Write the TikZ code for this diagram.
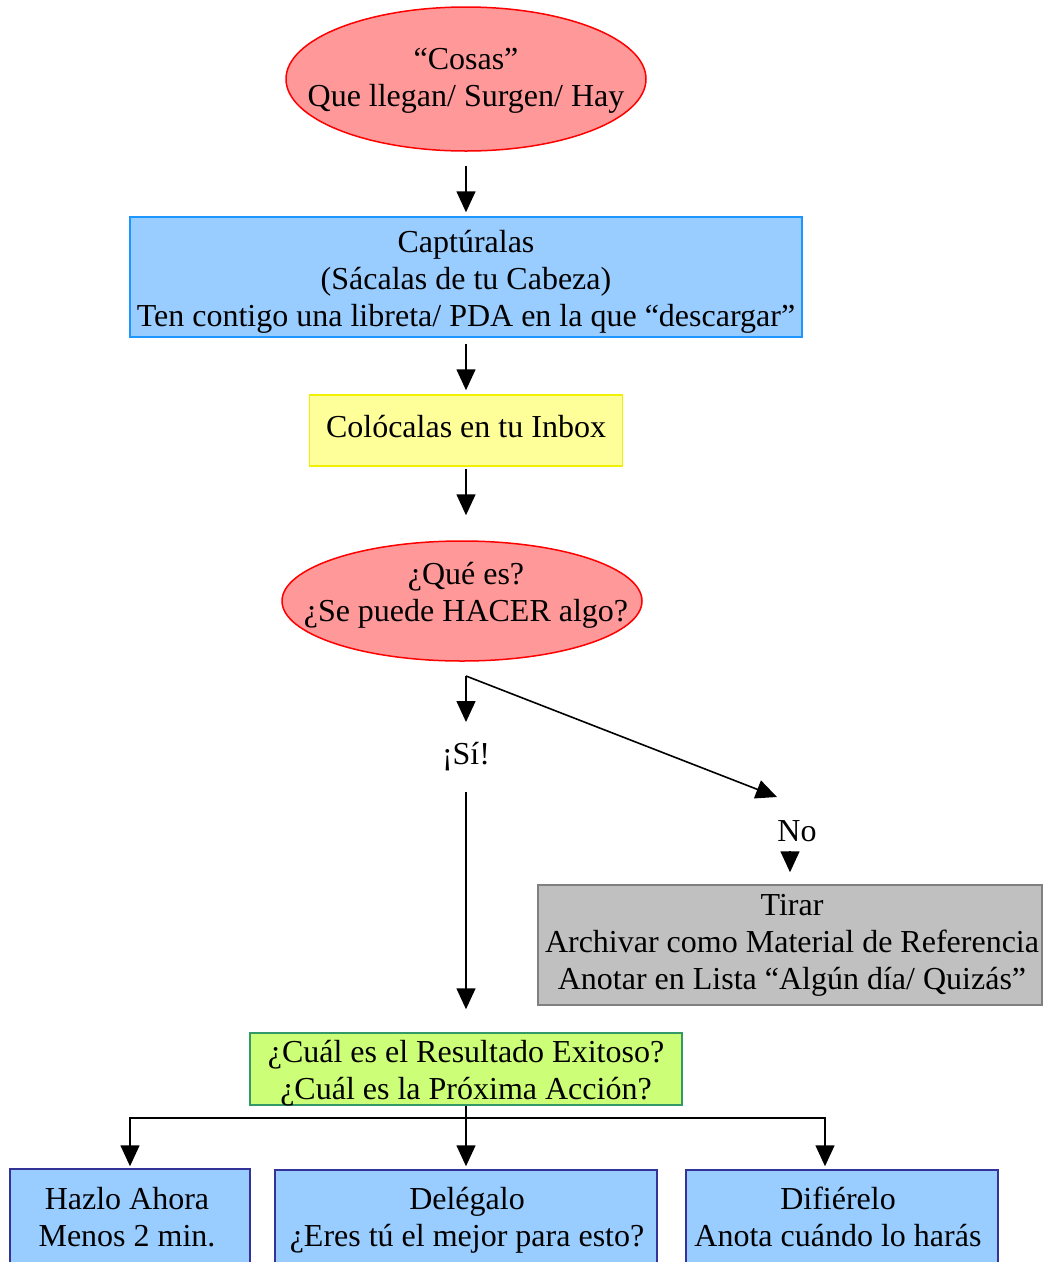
\documentclass[tikz,border=0pt]{standalone}
\usepackage{fontspec}
\setmainfont{Liberation Serif}
\usetikzlibrary{arrows.meta,positioning,shapes.geometric}
\definecolor{gtdred}{RGB}{255,0,0}
\definecolor{gtdpink}{RGB}{255,153,153}
\definecolor{gtdblue}{RGB}{30,150,255}
\definecolor{gtdsky}{RGB}{153,204,255}
\definecolor{gtdyellow}{RGB}{240,240,0}
\definecolor{gtdlemon}{RGB}{255,255,153}
\definecolor{gtdgray}{RGB}{128,128,128}
\definecolor{gtdsilver}{RGB}{192,192,192}
\definecolor{gtdgreen}{RGB}{51,153,102}
\definecolor{gtdlime}{RGB}{204,255,119}
\definecolor{gtdnavy}{RGB}{51,51,153}

\begin{document}
\begin{tikzpicture}[x=1pt,y=-1pt,
  font=\fontsize{32}{37}\selectfont,
  oval/.style={ellipse,draw=gtdred,fill=gtdpink,line width=1.5pt,inner sep=0pt},
  stepbox/.style={rectangle,line width=1.5pt,inner sep=0pt},
  lbl/.style={align=center,inner sep=0pt},
  arr/.style={-{Triangle[length=21pt,width=19pt]},line width=1.6pt}]
\useasboundingbox (0,0) rectangle (1043,1262);
\clip (0,0) rectangle (1043,1262);
% Entrada
\node[oval,minimum width=360pt,minimum height=144pt] (cosas) at (466,79) {};
\node[lbl] (cosast) at (466,81) {“Cosas”\\Que llegan/ Surgen/ Hay};
\node[stepbox,draw=gtdblue,fill=gtdsky,minimum width=672pt,minimum height=120pt] (capt) at (466,277) {};
\node[lbl] (captt) at (466,282) {Captúralas\\(Sácalas de tu Cabeza)\\Ten contigo una libreta/ PDA en la que “descargar”};
\node[stepbox,draw=gtdyellow,fill=gtdlemon,minimum width=313pt,minimum height=71pt] (inbox) at (466,430.5) {};
\node[lbl] (inboxt) at (466,426.5) {Colócalas en tu Inbox};
% Pregunta
\node[oval,minimum width=360pt,minimum height=120pt] (que) at (462,601) {};
\node[lbl] (quet) at (466,595.5) {¿Qué es?\\¿Se puede HACER algo?};
\coordinate (fork) at (466,676);
\node[lbl] (si) at (466,757) {¡Sí!};
\node[lbl] (no) at (797,831) {No};
\node[stepbox,draw=gtdgray,fill=gtdsilver,minimum width=504pt,minimum height=120pt] (tirar) at (790,945) {};
\node[lbl] (tirart) at (792,945) {Tirar\\Archivar como Material de Referencia\\Anotar en Lista “Algún día/ Quizás”};
% Accion
\node[stepbox,draw=gtdgreen,fill=gtdlime,minimum width=432pt,minimum height=72pt] (exito) at (466,1069) {};
\node[lbl] (exitot) at (466,1073) {¿Cuál es el Resultado Exitoso?\\¿Cuál es la Próxima Acción?};
\coordinate (split) at (466,1118);
\node[stepbox,draw=gtdnavy,fill=gtdsky,minimum width=240pt,minimum height=100pt] (hazlo) at (130,1219) {};
\node[lbl] (hazlot) at (127,1217) {Hazlo Ahora\\Menos 2 min.};
\node[stepbox,draw=gtdnavy,fill=gtdsky,minimum width=382pt,minimum height=100pt] (delegalo) at (466,1220) {};
\node[lbl] (delegalot) at (467,1220) {Delégalo\\¿Eres tú el mejor para esto?};
\node[stepbox,draw=gtdnavy,fill=gtdsky,minimum width=312pt,minimum height=100pt] (difierelo) at (842,1220) {};
\node[lbl] (difierelot) at (838,1217) {Difiérelo\\Anota cuándo lo harás};
% Flechas
\draw[arr,shorten <=14pt,shorten >=4pt] (cosas) -- (capt);
\draw[arr,shorten <=6pt,shorten >=4pt] (capt) -- (inbox);
\draw[arr,shorten <=2pt,shorten >=25pt] (inbox) -- (inbox |- que.north);
\draw[arr,shorten >=35pt] (fork) -- (si.center);
\draw[arr] (fork) -- ([shift={(-20,-34)}]no.center);
\draw[arr,shorten >=12pt] ([yshift=-20pt]no.center -| tirar.north) -- (tirar.north);
\draw[arr,shorten <=35pt,shorten >=23pt] (si.center) -- (exito.north);
\draw[line width=1.6pt] (exito) -- (split);
\draw[arr,shorten >=2pt] (split) -| (hazlo.north);
\draw[arr,shorten >=3pt] (split) -- (delegalo.north);
\draw[arr,shorten >=3pt] (split) -| ([xshift=-17pt]difierelo.north);
\end{tikzpicture}
\end{document}
